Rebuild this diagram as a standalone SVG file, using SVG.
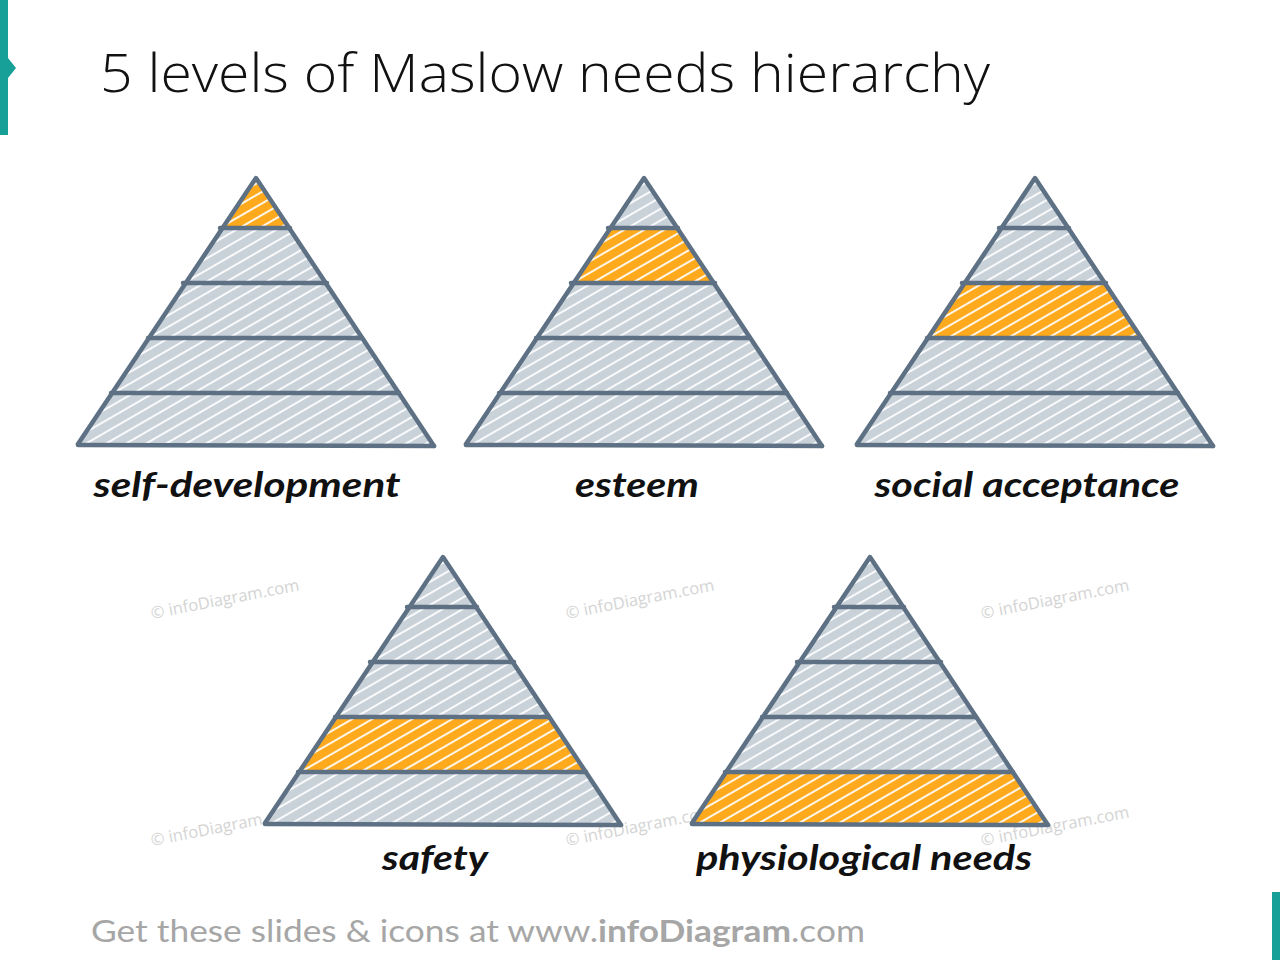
<svg xmlns="http://www.w3.org/2000/svg" xmlns:xlink="http://www.w3.org/1999/xlink" width="1280" height="960" viewBox="0 0 1280 960">
<style>
.title{font-family:"Open Sans","Liberation Sans",sans-serif;font-weight:300;font-size:54px;fill:#111}
.lbl{font-family:"Lato","DejaVu Sans",sans-serif;font-weight:bold;font-style:italic;font-size:34px;fill:#111;text-anchor:middle}
.wm{font-family:"Open Sans","Liberation Sans",sans-serif;font-size:16.5px;fill:#d4d4d4}
.foot{font-family:"Lato","Liberation Sans",sans-serif;font-size:31px;fill:#a6a6a6}
.edge{fill:none;stroke:#5e7184;stroke-width:4.5;stroke-linecap:round;stroke-linejoin:round}
.gray{fill:url(#hg)}
.org{fill:url(#ho)}
</style>
<defs>
<pattern id="hg" patternUnits="userSpaceOnUse" width="12" height="10" patternTransform="rotate(-30)">
<rect width="12" height="10" fill="#c9d1d9"/>
<line x1="0" y1="5" x2="12" y2="5" stroke="#fff" stroke-width="1.8"/>
</pattern>
<pattern id="ho" patternUnits="userSpaceOnUse" width="12" height="10" patternTransform="rotate(-30)">
<rect width="12" height="10" fill="#ffaa1d"/>
<line x1="0" y1="5" x2="12" y2="5" stroke="#fff" stroke-width="1.8"/>
</pattern>
<polygon id="tri" points="0,0 178,268 -178,268"/>
<g id="lines" class="edge">
<polyline points="-178,266 0,0 178,268"/>
<line x1="-36" y1="50" x2="34" y2="50"/>
<line x1="-73" y1="105" x2="71" y2="105"/>
<line x1="-108" y1="160" x2="106" y2="160"/>
<line x1="-145" y1="215" x2="143" y2="215"/>
<line x1="-178" y1="267" x2="178" y2="268"/>
</g>
</defs>
<rect width="1280" height="960" fill="#fff"/>
<g id="accent">
<polygon points="0,0 8,0 8,58 16,68 8,78 8,135 0,135" fill="#17a097"/>
<rect x="1272" y="892" width="8" height="68" fill="#17a097"/>
</g>
<text class="title" x="100" y="92" textLength="890" lengthAdjust="spacingAndGlyphs">5 levels of Maslow needs hierarchy</text>
<g id="watermarks">
<text class="wm" transform="translate(152,619) rotate(-11)">© infoDiagram.com</text>
<text class="wm" transform="translate(567,619) rotate(-11)">© infoDiagram.com</text>
<text class="wm" transform="translate(982,619) rotate(-11)">© infoDiagram.com</text>
<text class="wm" transform="translate(152,846) rotate(-11)">© infoDiagram.com</text>
<text class="wm" transform="translate(567,846) rotate(-11)">© infoDiagram.com</text>
<text class="wm" transform="translate(982,846) rotate(-11)">© infoDiagram.com</text>
</g>
<g id="pyramid-self-development" transform="translate(256,178)">
<use xlink:href="#tri" class="gray"/>
<polygon class="org" points="0,0 34,50 -34,50"/>
<use xlink:href="#lines"/>
</g>
<g id="pyramid-esteem" transform="translate(644,178)">
<use xlink:href="#tri" class="gray"/>
<polygon class="org" points="-34,50 34,50 71,105 -71,105"/>
<use xlink:href="#lines"/>
</g>
<g id="pyramid-social" transform="translate(1035,178)">
<use xlink:href="#tri" class="gray"/>
<polygon class="org" points="-71,105 71,105 106,160 -106,160"/>
<use xlink:href="#lines"/>
</g>
<g id="pyramid-safety" transform="translate(443,557)">
<use xlink:href="#tri" class="gray"/>
<polygon class="org" points="-106,160 106,160 143,215 -143,215"/>
<use xlink:href="#lines"/>
</g>
<g id="pyramid-physiological" transform="translate(870,557)">
<use xlink:href="#tri" class="gray"/>
<polygon class="org" points="-143,215 143,215 178,268 -178,268"/>
<use xlink:href="#lines"/>
</g>
<g id="labels">
<text class="lbl" x="247" y="497" textLength="307" lengthAdjust="spacingAndGlyphs">self-development</text>
<text class="lbl" x="637" y="497" textLength="124" lengthAdjust="spacingAndGlyphs">esteem</text>
<text class="lbl" x="1027" y="497" textLength="305" lengthAdjust="spacingAndGlyphs">social acceptance</text>
<text class="lbl" x="435" y="870" textLength="106" lengthAdjust="spacingAndGlyphs">safety</text>
<text class="lbl" x="864" y="870" textLength="336" lengthAdjust="spacingAndGlyphs">physiological needs</text>
</g>
<text class="foot" x="91" y="942" textLength="774" lengthAdjust="spacingAndGlyphs">Get these slides &amp; icons at www.<tspan font-weight="bold">infoDiagram</tspan>.com</text>
</svg>
